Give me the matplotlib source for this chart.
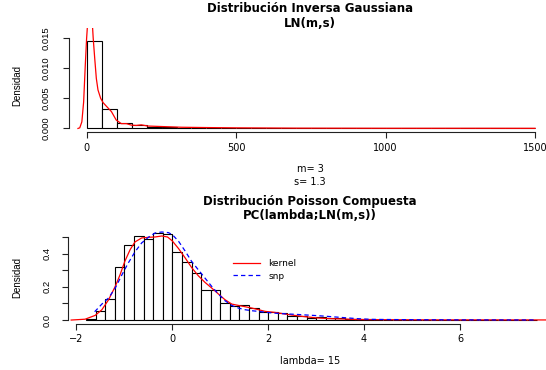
import matplotlib
matplotlib.use("Agg")
import matplotlib.pyplot as plt
import numpy as np

# ---------------- data ----------------
# Top panel: histogram of LN(m,s) sample (bins of width 50 from 0 to 1500)
top_bin_edges = np.arange(0, 1501, 50)
top_density = [0.01455, 0.00317, 0.00083, 0.0005, 0.0003, 0.0002, 0.00015, 0.0001,
               0.00008, 0.00006, 0.00004, 0.0, 0.0, 0.00002, 0.00003, 0.00002,
               0.00003, 0.00002, 0.00002, 0.0, 0.0, 0.0, 0.0, 0.0, 0.0, 0.0, 0.0,
               0.0, 0.0, 0.00002]
top_kde_x = [-30, -24, -17, -11, -5.5, -1, 1.3, 9, 19, 21, 26, 31.5, 37, 46, 54, 65,
             82, 98, 115, 132, 149, 165, 182, 204, 260, 316, 394, 500, 700, 1000,
             1300, 1500]
top_kde_y = [0.0, 0.0001, 0.0011, 0.0044, 0.0105, 0.015, 0.0167, 0.024, 0.0167, 0.015,
             0.0117, 0.0083, 0.0064, 0.005, 0.0043, 0.0037, 0.0028, 0.0014, 0.0008,
             0.0008, 0.00055, 0.0005, 0.0006, 0.0004, 0.0003, 0.0002, 0.00015,
             0.0001, 0.00005, 0.00003, 0.00003, 0.00002]
top_xticks = [0, 500, 1000, 1500]
top_yticks = [0.000, 0.005, 0.010, 0.015]
top_ytick_labels = ["0.000", "0.005", "0.010", "0.015"]

# Bottom panel: compound Poisson histogram (bins of width 0.2 from -1.8)
bot_bin_edges = np.round(np.arange(-1.8, 7.61, 0.2), 2)
bot_density = [0.008, 0.052, 0.126, 0.317, 0.45, 0.508, 0.488, 0.522, 0.518, 0.41,
               0.347, 0.283, 0.183, 0.178, 0.102, 0.082, 0.088, 0.074, 0.048, 0.046,
               0.040, 0.025, 0.026, 0.014, 0.016, 0.012, 0.013, 0.006, 0.004, 0.004,
               0.003, 0.002, 0.002, 0.002, 0.001, 0.001, 0.001, 0.0, 0.001, 0.001,
               0.0, 0.001, 0.0, 0.0, 0.0, 0.0, 0.001]
kernel_x = [-2.11, -1.82, -1.61, -1.47, -1.33, -1.19, -1.09, -0.99, -0.88, -0.78, -0.64,
            -0.5, -0.36, -0.22, -0.1, 0.0, 0.13, 0.27, 0.4, 0.54, 0.68, 0.82, 0.96,
            1.1, 1.24, 1.38, 1.52, 1.66, 1.8, 1.94, 2.14, 2.49, 2.77, 3.05, 3.33, 3.6,
            3.88, 4.5, 5.5, 6.5, 8.0]
kernel_y = [0.0, 0.005, 0.028, 0.062, 0.122, 0.203, 0.273, 0.354, 0.424, 0.47, 0.494,
            0.498, 0.5, 0.506, 0.5, 0.476, 0.43, 0.373, 0.317, 0.267, 0.227, 0.193,
            0.157, 0.122, 0.096, 0.088, 0.08, 0.072, 0.062, 0.052, 0.046, 0.03, 0.02,
            0.012, 0.008, 0.006, 0.003, 0.002, 0.001, 0.001, 0.0005]
snp_x = [-1.62, -1.47, -1.33, -1.19, -1.05, -0.92, -0.78, -0.64, -0.5, -0.36, -0.22,
         -0.08, 0.0, 0.13, 0.27, 0.4, 0.54, 0.68, 0.82, 0.96, 1.1, 1.24, 1.38, 1.52,
         1.66, 1.8, 2.0, 2.2, 2.58, 3.05, 3.33, 3.6, 3.88, 4.16, 5.0, 6.0, 7.57]
snp_y = [0.05, 0.096, 0.133, 0.193, 0.273, 0.343, 0.41, 0.464, 0.498, 0.524, 0.53,
         0.526, 0.514, 0.474, 0.414, 0.354, 0.303, 0.253, 0.203, 0.157, 0.116, 0.088,
         0.072, 0.062, 0.056, 0.052, 0.045, 0.04, 0.034, 0.026, 0.02, 0.014, 0.008,
         0.004, 0.002, 0.001, 0.0005]
bot_xticks = [-2, 0, 2, 4, 6]
bot_yticks = [0.0, 0.1, 0.2, 0.3, 0.4, 0.5]
bot_ytick_labels = ["0.0", "", "0.2", "", "0.4", ""]

title_top = ["Distribución Inversa Gaussiana", "LN(m,s)"]
sub_top = ["m= 3", "s= 1.3"]
title_bot = ["Distribución Poisson Compuesta", "PC(lambda;LN(m,s))"]
sub_bot = ["lambda= 15"]
ylab = "Densidad"
legend_labels = ["kernel", "snp"]

# ---------------- figure ----------------
W, H = 546, 370
fig = plt.figure(figsize=(W / 100, H / 100), dpi=100)
plt.rcParams['font.family'] = ['DejaVu Sans']
FS = 7
TFS = 8.5
YFS = 6.8
NARROW = ['Liberation Sans', 'DejaVu Sans']


def fx(px):
    return px / W


def fy(py):
    return 1 - py / H


def style_axes(ax, xb, yb, ypad):
    for s in ["top", "right"]:
        ax.spines[s].set_visible(False)
    ax.spines["bottom"].set_bounds(*xb)
    ax.spines["left"].set_bounds(*yb)
    for s in ["bottom", "left"]:
        ax.spines[s].set_linewidth(0.8)
        ax.spines[s].set_color("#222222")
    ax.tick_params(direction="out", length=4, width=0.8,
                   colors="#222222", labelcolor="black")
    ax.tick_params(axis="x", labelsize=FS, pad=3.5)
    ax.tick_params(axis="y", labelsize=YFS, pad=ypad)
    for lab in ax.get_yticklabels():
        lab.set_family(NARROW)
    ax.patch.set_alpha(0)


# Top panel
axL, axR = 69, 553
ax1 = fig.add_axes([fx(axL), fy(132.3), fx(axR - axL), (132.3 - 28.3) / H])
ax1.bar(top_bin_edges[:-1], top_density, width=50, align="edge",
        facecolor="white", edgecolor="black", linewidth=0.8)
ax1.plot(top_kde_x, top_kde_y, color="red", lw=0.9)
ax1.set_xlim(-60, 1560)
ax1.set_ylim(-0.00064, 0.01664)
ax1.set_xticks(top_xticks)
ax1.set_xticklabels([str(t) for t in top_xticks])
ax1.set_yticks(top_yticks)
ax1.set_yticklabels(top_ytick_labels, rotation=90, va="center")
style_axes(ax1, (0, 1500), (0, 0.015), 9)

# Bottom panel
ax2 = fig.add_axes([fx(68.3), fy(323.5), fx(553 - 68.3), (323.5 - 230.2) / H])
ax2.bar(bot_bin_edges[:-1], bot_density, width=0.2, align="edge",
        facecolor="white", edgecolor="black", linewidth=0.8)
ax2.plot(kernel_x, kernel_y, color="red", lw=0.9, label=legend_labels[0])
ax2.plot(snp_x, snp_y, color="blue", lw=0.9, linestyle=(0, (3.5, 2.5)),
         label=legend_labels[1])
ax2.set_xlim(-2.17, 7.94)
ax2.set_ylim(-0.0208, 0.5408)
ax2.set_xticks(bot_xticks)
ax2.set_xticklabels([str(t).replace("-", "\u2212") for t in bot_xticks])
ax2.set_yticks(bot_yticks)
ax2.set_yticklabels(bot_ytick_labels, rotation=90, va="center")
style_axes(ax2, (-2, 6), (0, 0.5), 8)
leg = ax2.legend(loc="center left", bbox_to_anchor=(fx(225), fy(270)),
                 bbox_transform=fig.transFigure, frameon=False, fontsize=FS - 0.5,
                 handlelength=3.0, handletextpad=0.9, labelspacing=0.35)

# Texts
cx = 310
fig.text(fx(cx), fy(9), title_top[0], ha="center", va="center",
         fontsize=TFS, fontweight="bold")
fig.text(fx(cx), fy(23.5), title_top[1], ha="center", va="center",
         fontsize=TFS, fontweight="bold")
fig.text(fx(cx), fy(169), sub_top[0], ha="center", va="center", fontsize=FS)
fig.text(fx(cx), fy(182), sub_top[1], ha="center", va="center", fontsize=FS)
fig.text(fx(cx), fy(201.5), title_bot[0], ha="center", va="center",
         fontsize=TFS, fontweight="bold")
fig.text(fx(cx), fy(215.5), title_bot[1], ha="center", va="center",
         fontsize=TFS, fontweight="bold")
fig.text(fx(cx), fy(361), sub_bot[0], ha="center", va="center", fontsize=FS)
fig.text(fx(17.5), fy(85), ylab, ha="center", va="center", rotation=90,
         fontsize=7, family=NARROW)
fig.text(fx(17.5), fy(277), ylab, ha="center", va="center", rotation=90,
         fontsize=7, family=NARROW)

fig.savefig("out.png", dpi=100, facecolor="white")
